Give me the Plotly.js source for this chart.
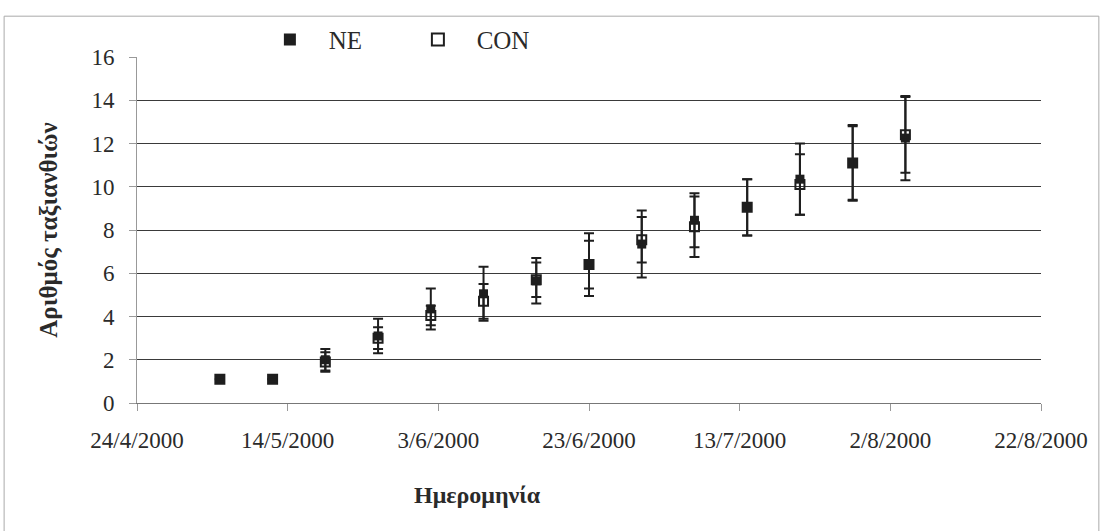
<!DOCTYPE html>
<html>
<head>
<meta charset="utf-8">
<script src="https://cdn.plot.ly/plotly-3.0.1.min.js"></script>
<style>html,body{margin:0;padding:0;background:#fff;}#chart{width:1102px;height:531px;}</style>
</head>
<body>
<div id="chart"></div>
<script>
var dates = ['2000-05-05','2000-05-12','2000-05-19','2000-05-26','2000-06-02','2000-06-09','2000-06-16','2000-06-23','2000-06-30','2000-07-07','2000-07-14','2000-07-21','2000-07-28','2000-08-04'];
var neMean = [1.1, 1.1, 2.0, 3.1, 4.35, 5.05, 5.65, 6.4, 7.35, 8.45, 9.05, 10.35, 11.1, 12.25];
var neErr  = [0, 0, 0.5, 0.8, 0.95, 1.25, 1.05, 1.45, 1.55, 1.25, 1.3, 1.65, 1.75, 1.95];
var conMean = [1.1, 1.1, 1.9, 3.0, 4.05, 4.7, 5.7, 6.4, 7.55, 8.15, 9.05, 10.1, 11.1, 12.4];
var conErr  = [0, 0, 0.45, 0.5, 0.45, 0.8, 0.8, 1.1, 1.05, 1.4, 1.3, 1.4, 1.7, 1.75];
var yTicks = [0, 2, 4, 6, 8, 10, 12, 14, 16];
var seriesNames = ['NE', 'CON'];

var ink = '#1e1e1e';
var fam = 'Liberation Serif, serif';
var font = {family: fam, size: 23, color: '#2a2a2a'};
var pad = '\u00a0\u00a0\u00a0';

var traces = [
  {x: dates, y: neMean, name: pad + seriesNames[0], type: 'scatter', mode: 'markers',
   marker: {symbol: 'square', size: 9, color: ink},
   error_y: {type: 'data', array: neErr, visible: true, color: ink, thickness: 2, width: 5}},
  {x: dates, y: conMean, name: pad + seriesNames[1], type: 'scatter', mode: 'markers',
   marker: {symbol: 'square-open', size: 9, color: ink, line: {width: 2, color: ink}},
   error_y: {type: 'data', array: conErr, visible: true, color: ink, thickness: 2, width: 5}}
];

var layout = {
  width: 1102, height: 531,
  margin: {l: 137, r: 61, t: 57, b: 128},
  paper_bgcolor: '#fff', plot_bgcolor: '#fff',
  font: font,
  showlegend: true,
  legend: {orientation: 'h', x: 0.147, xanchor: 'left', y: 1.05, yanchor: 'middle',
           font: {family: fam, size: 25, color: '#2a2a2a'}, itemsizing: 'constant',
           entrywidth: 103, entrywidthmode: 'pixels', bgcolor: 'rgba(0,0,0,0)'},
  xaxis: {
    type: 'date', range: ['2000-04-24', '2000-08-22'],
    tick0: '2000-04-24', dtick: 20 * 86400000, tickformat: '%-d/%-m/%Y',
    showgrid: false, zeroline: false, showline: true, linecolor: '#777', linewidth: 1,
    ticks: 'outside', ticklen: 7, tickcolor: '#999', tickfont: font, ticklabelstandoff: 9
  },
  yaxis: {
    range: [0, 16], tickvals: yTicks, ticktext: yTicks.map(String),
    showgrid: true, gridcolor: '#3a3a3a', gridwidth: 1, zeroline: false,
    showline: true, linecolor: '#999', linewidth: 1,
    ticks: 'outside', ticklen: 7, tickcolor: '#999', tickfont: font, ticklabelstandoff: 10,
    title: {text: '<b>Αριθμός ταξιανθιών</b>', font: {family: fam, size: 25, color: '#2a2a2a'}, standoff: 26}
  },
  annotations: [{text: '<b>Ημερομηνία</b>', xref: 'paper', yref: 'paper', x: 0.377, y: -0.266,
                 xanchor: 'center', yanchor: 'middle', showarrow: false,
                 font: {family: fam, size: 24, color: '#2a2a2a'}}],
  shapes: [{type: 'rect', xref: 'paper', yref: 'paper', x0: -0.147, x1: 1.064, y0: -0.40, y1: 1.118,
            line: {color: '#aaa', width: 1}}]
};

Plotly.newPlot('chart', traces, layout, {displayModeBar: false, staticPlot: true});
</script>
</body>
</html>
